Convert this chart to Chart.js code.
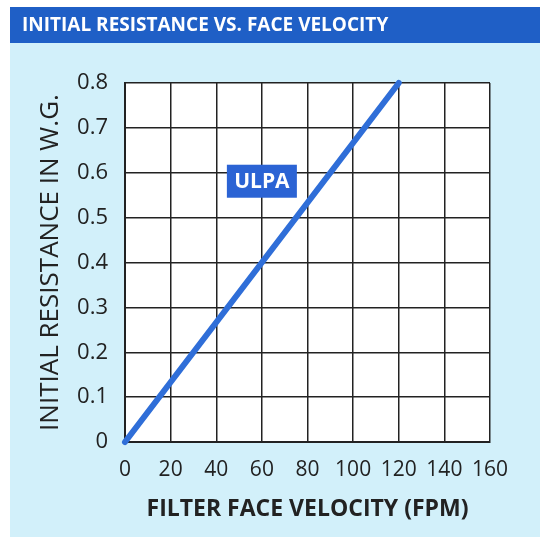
<!DOCTYPE html>
<html>
<head>
<meta charset="utf-8">
<script src="https://cdn.jsdelivr.net/npm/chart.js@4.4.0/dist/chart.umd.min.js"></script>
<style>
  html, body { margin: 0; padding: 0; background: #ffffff; }
  #wrap { width: 540px; height: 537px; position: relative; }
</style>
</head>
<body>
<div id="wrap"><canvas id="resistanceChart" width="540" height="537"></canvas></div>
<script>
// chart data
const velocity = [0, 120];          // FPM
const resistance = [0, 0.8];        // in. W.G.
const seriesName = 'ULPA';
const labelPoint = { x: 60, y: 0.58 };
const headerText = 'INITIAL RESISTANCE VS. FACE VELOCITY';

const panelBlue = '#1f5fc6';
const panelBg = '#d2f0fa';
const lineBlue = '#2f6ed8';
const gridColor = '#222222';

// background panel, header band, white plot area and the ULPA tag
const panelPlugin = {
    id: 'panel',
    beforeDraw(chart) {
        const { ctx, chartArea } = chart;
        ctx.save();
        ctx.fillStyle = '#ffffff';
        ctx.fillRect(0, 0, chart.width, chart.height);
        ctx.fillStyle = panelBg;
        ctx.fillRect(10, 7, chart.width - 10, chart.height - 7);
        ctx.fillStyle = panelBlue;
        ctx.fillRect(10, 7, chart.width - 10, 36);
        ctx.fillStyle = '#ffffff';
        ctx.font = 'bold 19px "Open Sans"';
        ctx.textBaseline = 'middle';
        ctx.fillText(headerText, 22, 26);
        ctx.fillStyle = '#ffffff';
        ctx.fillRect(chartArea.left, chartArea.top, chartArea.right - chartArea.left, chartArea.bottom - chartArea.top);
        ctx.restore();
    },
    afterDatasetsDraw(chart) {
        const { ctx, scales } = chart;
        const cx = scales.x.getPixelForValue(labelPoint.x);
        const cy = scales.y.getPixelForValue(labelPoint.y);
        ctx.save();
        ctx.fillStyle = '#2b63d4';
        ctx.fillRect(cx - 35, cy - 17, 70, 33);
        ctx.fillStyle = '#ffffff';
        ctx.font = 'bold 21px "Open Sans"';
        ctx.textAlign = 'center';
        ctx.textBaseline = 'middle';
        ctx.fillText(seriesName, cx, cy);
        ctx.restore();
    }
};

new Chart(document.getElementById('resistanceChart'), {
    type: 'scatter',
    data: {
        datasets: [{
            label: seriesName,
            data: velocity.map((v, i) => ({ x: v, y: resistance[i] })),
            showLine: true,
            borderColor: lineBlue,
            borderWidth: 6,
            borderCapStyle: 'round',
            pointRadius: 0,
            clip: false
        }]
    },
    options: {
        responsive: false,
        animation: false,
        layout: { padding: { top: 83, right: 50, left: 0, bottom: 0 } },
        plugins: {
            legend: { display: false },
            tooltip: { enabled: false }
        },
        scales: {
            x: {
                type: 'linear',
                min: 0,
                max: 160,
                afterFit: (scale) => { scale.height = 95; },
                ticks: { stepSize: 20, color: '#222', font: { family: '"Open Sans"', size: 21 }, padding: 15, maxRotation: 0 },
                grid: { color: gridColor, lineWidth: 1.5, drawTicks: false },
                border: { color: gridColor, width: 2 },
                title: {
                    display: true,
                    text: 'FILTER FACE VELOCITY (FPM)',
                    color: '#222',
                    font: { family: '"Open Sans"', size: 23, weight: 'bold' },
                    padding: { top: 0, bottom: 14 }
                }
            },
            y: {
                min: 0,
                max: 0.8,
                afterFit: (scale) => { scale.width = 125; },
                ticks: {
                    stepSize: 0.1,
                    color: '#222',
                    font: { family: '"Open Sans"', size: 22 },
                    padding: 17,
                    callback: (v) => v === 0 ? '0' : v.toFixed(1)
                },
                grid: { color: gridColor, lineWidth: 1.5, drawTicks: false },
                border: { color: gridColor, width: 2 },
                title: {
                    display: true,
                    text: 'INITIAL RESISTANCE IN W.G.',
                    color: '#222',
                    font: { family: '"Open Sans"', size: 26 },
                    padding: { top: 35, bottom: 0 }
                }
            }
        }
    },
    plugins: [panelPlugin]
});
</script>
</body>
</html>
